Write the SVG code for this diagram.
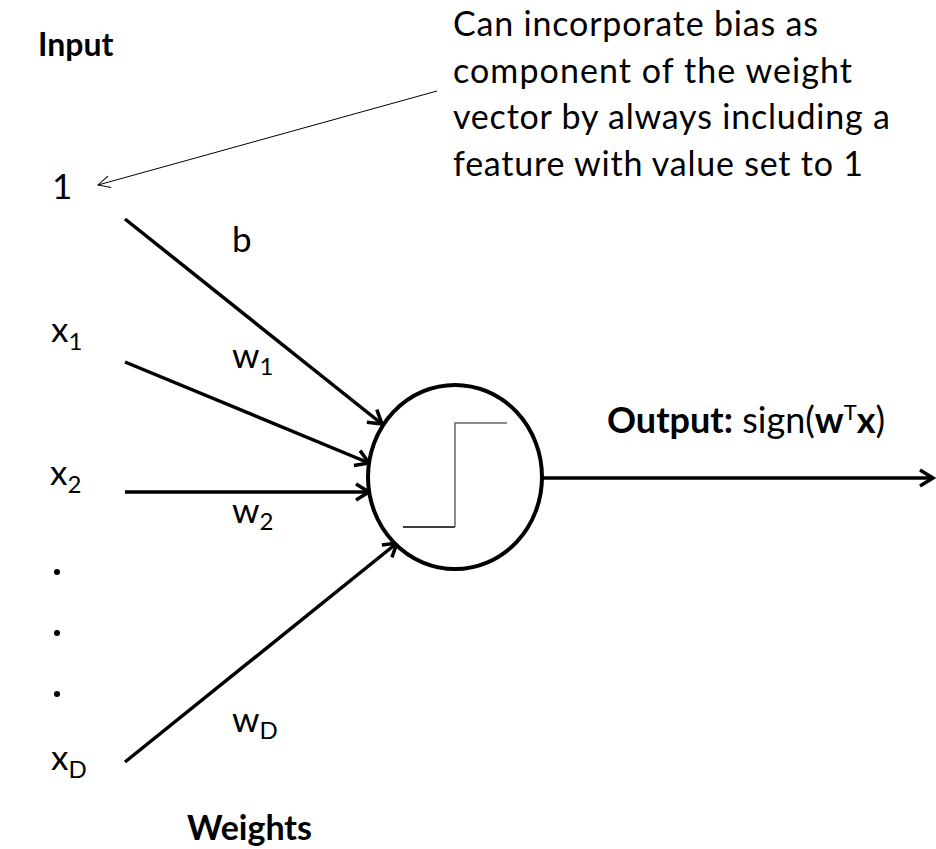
<svg xmlns="http://www.w3.org/2000/svg" width="936" height="849" viewBox="0 0 936 849">
<style>
text{font-family:"Lato","Open Sans","Liberation Sans",sans-serif;fill:#000;font-size:35px}
.b{font-weight:bold}
.note{font-size:34px}
.edge{stroke:#000;stroke-width:3.5;fill:none;marker-end:url(#arr)}
.sub{font-size:24px}
</style>
<defs>
<marker id="arr" markerUnits="userSpaceOnUse" viewBox="-16 -10 20 20" markerWidth="20" markerHeight="20" refX="0" refY="0" orient="auto">
<path d="M-13,-8 L0,0 L-13,8" fill="none" stroke="#000" stroke-width="3.5"/>
</marker>
<marker id="thin" markerUnits="userSpaceOnUse" viewBox="-16 -10 20 20" markerWidth="20" markerHeight="20" refX="0" refY="0" orient="auto">
<path d="M-12,-6 L0,0 L-12,6" fill="none" stroke="#000" stroke-width="1"/>
</marker>
</defs>
<rect width="936" height="849" fill="#fff"/>
<g id="labels">
<text class="b" x="38" y="56" style="font-size:32px">Input</text>
<text class="b" x="187" y="840" style="font-size:34px">Weights</text>
<text class="note" x="453" y="36" textLength="365">Can incorporate bias as</text>
<text class="note" x="453" y="83" textLength="399">component of the weight</text>
<text class="note" x="453" y="129" textLength="437">vector by always including a</text>
<text class="note" x="453" y="176" textLength="410">feature with value set to 1</text>
</g>
<g id="connectors">
<line x1="437" y1="91" x2="98" y2="185" stroke="#000" stroke-width="1" marker-end="url(#thin)"/>
<line class="edge" x1="125" y1="219" x2="382" y2="424"/>
<line class="edge" x1="125" y1="362" x2="369" y2="463"/>
<line class="edge" x1="125" y1="492" x2="369" y2="492"/>
<line class="edge" x1="125" y1="762" x2="397" y2="543"/>
<line class="edge" x1="542" y1="478" x2="933" y2="478"/>
</g>
<g id="input-1"><text x="52" y="199">1</text></g>
<g id="input-x1"><text x="51" y="342">x<tspan class="sub" dy="8">1</tspan></text></g>
<g id="input-x2"><text x="50" y="485">x<tspan class="sub" dy="8">2</tspan></text></g>
<g id="dots">
<circle cx="57" cy="572" r="3"/>
<circle cx="57" cy="633" r="3"/>
<circle cx="57" cy="694" r="3"/>
</g>
<g id="input-xD"><text x="51" y="770">x<tspan class="sub" dy="8">D</tspan></text></g>
<g id="weight-b"><text x="232" y="252">b</text></g>
<g id="weight-w1"><text x="232" y="368">w<tspan class="sub" dy="7">1</tspan></text></g>
<g id="weight-w2"><text x="232" y="523">w<tspan class="sub" dy="7">2</tspan></text></g>
<g id="weight-wD"><text x="232" y="732">w<tspan class="sub" dy="7">D</tspan></text></g>
<g id="neuron">
<ellipse cx="455" cy="477" rx="87" ry="92" fill="#fff" stroke="#000" stroke-width="4"/>
<polyline points="403,527 455,527" fill="none" stroke="#000" stroke-width="1.5"/>
<polyline points="455,527 455,423 507,423" fill="none" stroke="#666" stroke-width="1.5"/>
</g>
<g id="output">
<text x="607" y="433" style="font-size:36px"><tspan class="b">Output:</tspan> sign(<tspan class="b">w</tspan><tspan font-size="22" dy="-13">T</tspan><tspan class="b" dy="13">x</tspan>)</text>
</g>
</svg>
